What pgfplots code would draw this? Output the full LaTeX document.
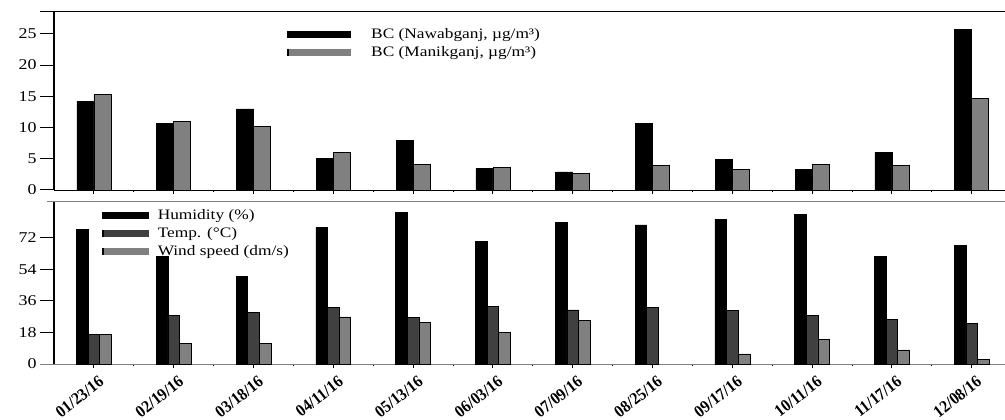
\documentclass[border=0pt]{standalone}
\usepackage{pgfplots}
\pgfplotsset{compat=1.18}
\usepackage{fontspec}
\setmainfont{Liberation Serif}[FakeStretch=1.2]
\newfontfamily\labfont{Liberation Serif Bold}[FakeStretch=0.92]
\definecolor{midgray}{HTML}{808080}
\definecolor{darkgray}{HTML}{404040}
\begin{document}
\begin{tikzpicture}
\path[use as bounding box] (0,0) rectangle (1005bp,420bp);
\pgfplotsset{
 common/.style={
  scale only axis, width=951bp, xmin=-0.5, xmax=11.417,
  axis lines=left, axis line style={-}, clip=false,
  tick align=outside,
  xtick={0,...,11}, minor x tick num=1,
  major tick length=14bp,
  xtick style={/pgfplots/major tick length=4bp, /pgfplots/minor tick length=2bp, black, line width=1bp},
  ytick style={black, line width=1bp},
  y axis line style={line width=1.6bp},
  ybar=0pt,
  /pgf/number format/assume math mode=true,
  yticklabel style={font=\fontsize{15}{15}\selectfont},
  legend cell align=left,
  legend style={draw=none, fill=none, font=\fontsize{14.5}{15}\selectfont, anchor=north west,
     inner sep=0pt, row sep=4.5bp, nodes={inner sep=1bp}},
 }
}
\begin{axis}[common, at={(54bp,230bp)}, anchor=south west, height=178bp,
  ymin=0, ymax=28.5, ytick={0,5,...,25}, xticklabels={},
  bar width=0.213,
  legend style={at={(0.245,0.915)}},
  legend image code/.code={\fill[#1,draw=none] (0bp,-3.5bp) rectangle (64bp,3.5bp);
     \fill[black,draw=none] (0bp,-3.5bp) rectangle (2bp,3.5bp);\path[draw=none,fill=none] (0bp,0bp) -- (83bp,0bp);},
  ]
\addplot[draw=black, fill=black, line width=0.6bp] coordinates {(0,14.2) (1,10.6) (2,13.0) (3,5.0) (4,7.9) (5,3.4) (6,2.9) (7,10.6) (8,4.9) (9,3.35) (10,6.0) (11,25.7)};
\addlegendentry{BC (Nawabganj, µg/m³)}
\addplot[draw=black, fill=midgray, line width=0.6bp] coordinates {(0,15.3) (1,11.0) (2,10.2) (3,6.0) (4,4.1) (5,3.6) (6,2.7) (7,3.9) (8,3.35) (9,4.1) (10,3.9) (11,14.7)};
\addlegendentry{BC (Manikganj, µg/m³)}
\draw[black, line width=1bp] (rel axis cs:-0.0147,1) -- (rel axis cs:1,1);
\draw[black, line width=1bp] (rel axis cs:-0.0147,0) -- (rel axis cs:0,0);
\end{axis}
\begin{axis}[common, at={(54bp,56bp)}, anchor=south west, height=162.3bp,
  ymin=0, ymax=92.5, ytick={0,18,...,72},
  x axis line style={midgray, line width=1bp},
  bar width=0.146,
  xticklabels={01/23/16,02/19/16,03/18/16,04/11/16,05/13/16,06/03/16,07/09/16,08/25/16,09/17/16,10/11/16,11/17/16,12/08/16},
  xticklabel style={rotate=38, anchor=north east, font=\labfont\fontsize{17}{17}\selectfont, inner sep=0bp, xshift=5bp, yshift=0bp},
  legend style={at={(0.05,0.96)}},
  legend image code/.code={\fill[#1,draw=none] (0bp,-3.5bp) rectangle (47bp,3.5bp);
     \fill[black,draw=none] (0bp,-3.5bp) rectangle (2bp,3.5bp);\path[draw=none,fill=none] (0bp,0bp) -- (55bp,0bp);},
  ]
\addplot[draw=black, fill=black, line width=0.6bp] coordinates {(0,76.8) (1,61.1) (2,50.1) (3,77.8) (4,86.2) (5,70.0) (6,80.5) (7,79.3) (8,82.4) (9,85.2) (10,61.1) (11,67.8)};
\addlegendentry{Humidity (\%)}
\addplot[draw=black, fill=darkgray, line width=0.6bp] coordinates {(0,16.9) (1,27.9) (2,29.2) (3,32.2) (4,26.6) (5,32.6) (6,30.8) (7,32.1) (8,30.4) (9,27.9) (10,25.4) (11,23.2)};
\addlegendentry{Temp. (°C)}
\addplot[draw=black, fill=midgray, line width=0.6bp] coordinates {(0,16.9) (1,11.8) (2,11.8) (3,26.9) (4,23.5) (5,18.0) (6,24.7) (8,5.7) (9,14.1) (10,8.0) (11,2.7)};
\addlegendentry{Wind speed (dm/s)}
\draw[midgray, line width=1bp] (rel axis cs:-0.0074,1) -- (rel axis cs:1,1);
\draw[midgray, line width=1bp] (rel axis cs:-0.0147,0) -- (rel axis cs:0,0);
\end{axis}
\end{tikzpicture}
\end{document}
